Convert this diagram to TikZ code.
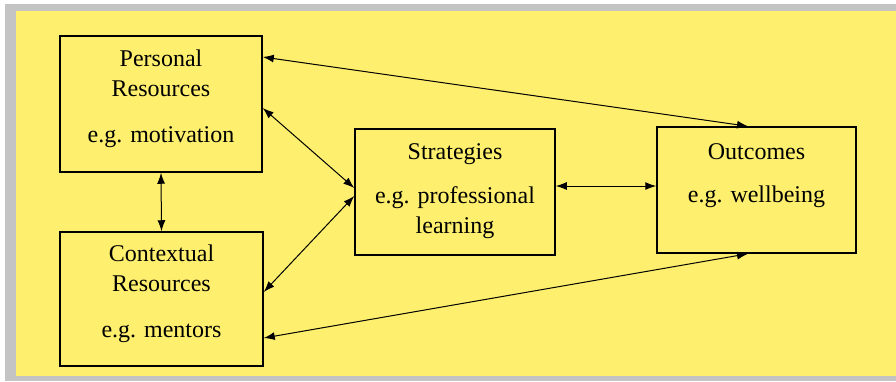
\documentclass[tikz,border=0pt]{standalone}
\usepackage{fontspec}
\setmainfont{Liberation Serif}
\usetikzlibrary{positioning,arrows.meta}
\definecolor{notepad}{RGB}{254,240,110}
\definecolor{shadow}{RGB}{196,196,196}

\begin{document}
\begin{tikzpicture}[
		x=1pt, y=-1pt,
		box/.style={draw, line width=1.5pt, inner sep=0pt},
		boxtext/.style={align=center, inner sep=0pt, font=\fontsize{24}{30}\selectfont},
		link/.style={{Latex[length=11pt,width=8pt]}-{Latex[length=11pt,width=8pt]}, line width=1pt}
		]
		\fill[white] (0,0) rectangle (896,381);
		\fill[shadow] (5,4) rectangle (896,381);
		\fill[notepad] (16,11) rectangle (896,376);

		\node[box, minimum width=202pt, minimum height=136pt] (personal) at (161,104) {};
		\node[box, minimum width=203pt, minimum height=134pt] (contextual) at (161.5,299) {};
		\node[box, minimum width=200pt, minimum height=126pt] (strategies) at (455,192) {};
		\node[box, minimum width=199pt, minimum height=126pt] (outcomes) at (756.5,190) {};

		\node[boxtext, below=14pt of personal.north] (personaltext)
			{Personal\\Resources\\[16pt]e.g. motivation};
		\node[boxtext, below=13pt of contextual.north] (contextualtext)
			{Contextual\\Resources\\[16pt]e.g. mentors};
		\node[boxtext, below=15.5pt of strategies.north] (strategiestext)
			{Strategies\\[14pt]e.g. professional\\learning};
		\node[boxtext, below=17.5pt of outcomes.north] (outcomestext)
			{Outcomes\\[13pt]e.g. wellbeing};

		\draw[link] ([yshift=47pt]personal.east) -- ([xshift=-8.5pt]outcomes.north);
		\draw[link] ([yshift=-4pt]personal.east) -- ([yshift=4pt]strategies.west);
		\draw[link] ([yshift=7pt]contextual.east) -- ([yshift=-4pt]strategies.west);
		\draw[link] ([yshift=-39pt]contextual.east) -- ([xshift=-8.5pt]outcomes.south);
		\draw[link] (personal.south) -- (contextual.north);
		\draw[link] ([yshift=6pt]strategies.east) -- ([yshift=4pt]outcomes.west);
\end{tikzpicture}
\end{document}
